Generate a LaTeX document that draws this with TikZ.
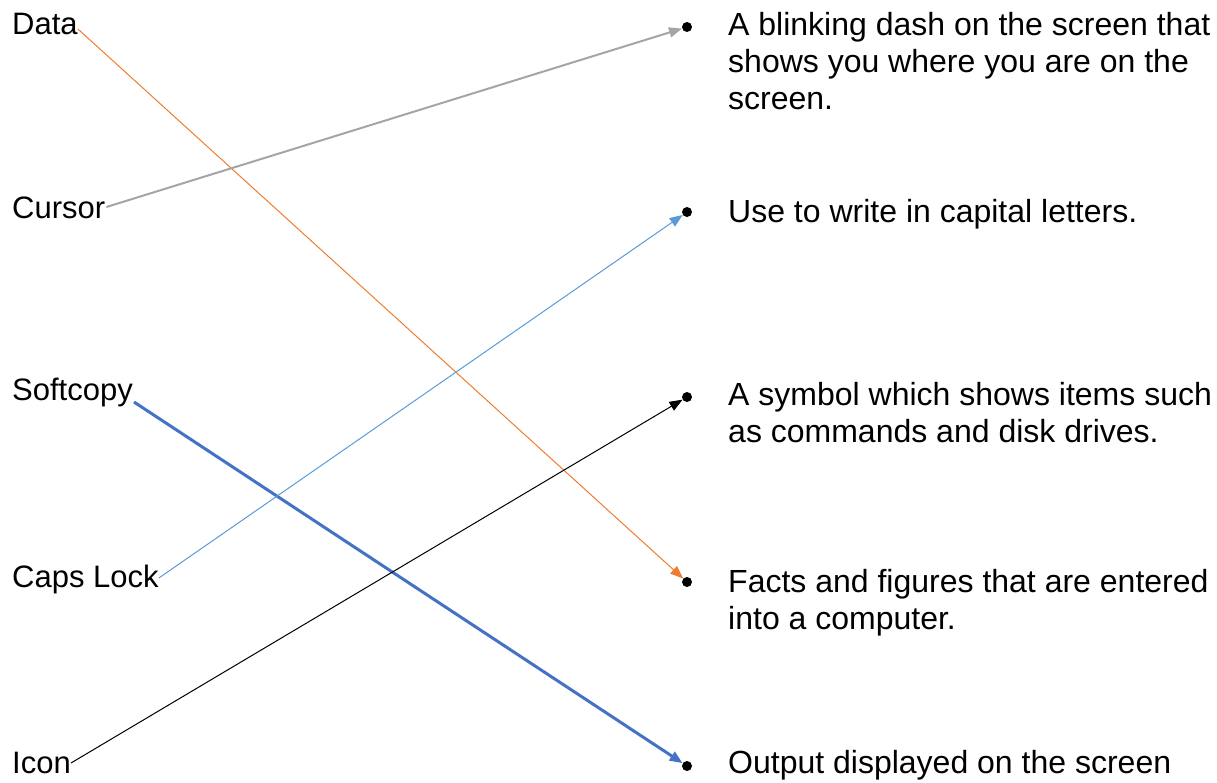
\documentclass[tikz,border=0pt]{standalone}
\usepackage{fontspec}
\setmainfont{Liberation Sans}
\usetikzlibrary{arrows.meta}

\definecolor{lnorange}{HTML}{ED7D31}
\definecolor{lngray}{HTML}{A5A5A5}
\definecolor{lnblue}{HTML}{4472C4}
\definecolor{lnsky}{HTML}{5B9BD5}

\begin{document}
\begin{tikzpicture}
  [x=1pt,y=-1pt,
   every node/.style={inner sep=0pt},
   term/.style={anchor=base west,font=\fontsize{31}{37}\selectfont},
   dot/.style={circle,fill=black,minimum size=10pt},
   desc/.style={anchor=base west,align=left,font=\fontsize{32}{37}\selectfont},
   link/.style={-{Triangle[length=13pt,width=10pt]}}]
  \useasboundingbox (0,0) rectangle (1217,782);

  \node[term] (data) at (12,34) {Data};
  \node[term] (cursor) at (12,218) {Cursor};
  \node[term] (soft) at (12,400) {Softcopy};
  \node[term] (caps) at (12,587) {Caps Lock};
  \node[term] (icon) at (12,773) {Icon};

  \node[dot] (d1) at (687,27) {};
  \node[dot] (d2) at (687,212) {};
  \node[dot] (d3) at (687,397) {};
  \node[dot] (d4) at (687,582) {};
  \node[dot] (d5) at (687,766) {};

  % multi-line texts sit on the baseline of their last line
  \node[desc] (t1) at (728,109) {A blinking dash on the screen that\\shows you where you are on the\\screen.};
  \node[desc] (t2) at (728,222) {Use to write in capital letters.};
  \node[desc] (t3) at (728,442) {A symbol which shows items such\\as commands and disk drives.};
  \node[desc] (t4) at (728,629) {Facts and figures that are entered\\into a computer.};
  \node[desc] (t5) at (728,773) {Output displayed on the screen};

  \draw[link,lnorange,line width=1pt] ([yshift=5pt]data.base east) -- (d4);
  \draw[link,lngray,line width=2pt] ([xshift=1pt,yshift=11pt]cursor.base east) -- (d1);
  \draw[link,lnblue,line width=3pt] ([xshift=1pt,yshift=-2pt]soft.base east) -- (d5);
  \draw[link,lnsky,line width=1pt] ([yshift=9pt]caps.base east) -- (d2);
  \draw[link,black,line width=1pt] ([yshift=10pt]icon.base east) -- (d3);
\end{tikzpicture}
\end{document}
